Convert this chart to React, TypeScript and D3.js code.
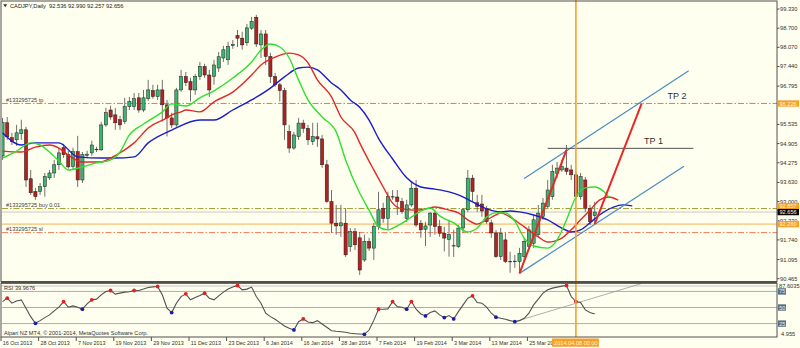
import React from "react";
import * as d3 from "d3";

// ---------- DATA ----------
const opens = [94.50,95.59,95.10,95.03,95.23,95.36,93.75,93.33,93.33,93.49,93.78,93.94,94.21,94.77,94.54,94.15,94.64,93.71,94.52,94.60,94.70,94.70,95.52,96.01,95.85,95.69,95.63,96.12,96.12,96.41,96.01,96.38,96.65,96.45,96.67,96.18,95.75,95.52,96.67,97.11,96.94,96.67,97.11,97.44,97.16,97.11,97.39,97.72,97.66,98.13,98.46,98.37,98.22,98.70,99.06,98.15,98.51,97.77,97.11,96.84,96.65,95.30,94.76,95.14,95.58,95.41,94.97,95.13,95.06,94.21,93.00,92.29,92.20,92.29,91.52,92.01,91.81,91.08,91.69,91.47,92.18,92.78,92.45,93.14,93.15,93.00,92.45,92.89,93.44,92.29,92.09,92.23,92.62,92.18,91.96,91.76,91.55,91.52,92.13,92.73,93.77,92.96,92.92,92.76,92.30,91.97,91.19,91.74,91.02,91.03,91.03,91.19,91.52,91.63,91.91,92.51,92.84,93.16,93.93,94.04,94.10,94.04,93.88,93.16,93.71,92.78,92.536];
const highs = [95.75,95.78,95.26,95.52,95.69,95.46,94.04,93.45,93.61,93.94,94.04,94.37,94.77,94.90,94.67,94.77,95.16,94.63,94.67,95.00,94.80,95.62,96.08,96.15,96.08,95.82,96.41,96.44,96.57,96.57,96.67,97.00,96.84,96.84,97.00,96.34,95.92,96.74,97.33,97.26,97.07,97.20,97.59,97.53,97.33,97.66,97.92,98.12,98.25,98.31,98.64,98.58,98.84,99.07,99.14,98.64,98.64,97.89,97.23,96.90,96.74,95.52,95.29,95.75,95.69,95.52,95.59,95.59,95.19,94.37,93.38,92.89,92.89,92.79,92.13,92.13,92.00,91.91,91.81,92.30,93.32,92.96,93.32,93.38,93.38,93.12,93.06,93.65,93.71,92.40,92.33,92.65,92.73,92.40,92.17,92.40,92.07,92.23,92.79,94.04,93.88,93.22,93.22,92.86,92.40,92.07,92.13,91.97,91.35,91.25,91.48,91.81,92.20,92.56,92.89,93.12,93.71,94.21,94.30,94.37,94.86,94.21,93.98,93.94,93.81,92.89,92.990];
const lows = [94.37,95.03,94.86,94.83,95.03,93.48,93.22,93.06,93.22,93.16,93.71,93.78,94.04,94.44,94.08,94.04,93.48,93.61,94.44,94.50,94.63,94.67,95.46,95.69,95.36,95.36,95.55,96.01,96.01,95.92,95.95,96.31,96.38,96.34,95.63,95.14,95.42,95.46,96.61,96.80,96.29,96.51,97.00,97.07,96.44,96.84,97.26,97.59,97.49,98.02,98.08,97.99,98.12,98.64,98.08,97.72,97.49,96.90,96.77,96.29,95.03,94.60,94.70,95.03,95.26,94.86,94.86,94.80,94.11,92.96,91.97,91.91,91.84,91.18,91.35,91.41,90.59,91.02,91.38,91.08,92.07,92.30,92.07,93.06,92.56,92.60,92.33,92.83,92.17,91.81,91.54,91.84,91.91,91.84,91.36,91.19,91.18,91.48,91.97,92.66,93.00,92.66,92.50,92.27,91.81,91.15,91.08,90.98,90.66,90.82,90.64,91.02,91.41,91.48,91.84,92.40,92.79,93.06,93.78,93.98,93.88,93.71,93.06,93.06,92.66,92.23,92.257];
const closes = [95.60,95.13,94.97,95.26,95.36,93.71,93.29,93.16,93.49,93.82,93.94,94.21,94.60,94.54,94.14,94.64,93.71,94.54,94.56,94.86,94.72,95.52,95.92,95.78,95.59,95.52,96.12,96.29,96.38,96.01,96.41,96.67,96.45,96.67,96.18,95.75,95.52,96.67,97.11,96.91,96.67,97.11,97.44,97.16,96.67,97.49,97.76,97.99,98.10,98.17,98.37,98.15,98.71,98.92,98.18,98.51,97.77,97.11,96.84,96.65,95.52,94.76,95.19,95.58,95.41,95.03,95.14,95.06,94.21,93.00,92.29,92.20,92.30,91.25,92.01,91.58,90.75,91.69,91.47,92.18,92.73,92.45,93.16,93.17,93.00,92.67,92.89,93.44,92.23,92.07,92.20,92.62,92.18,91.96,91.80,91.91,91.54,92.13,92.73,93.77,93.33,92.84,92.69,92.34,91.97,91.19,91.96,91.03,91.03,91.04,91.30,91.69,92.07,92.40,92.62,92.95,93.38,93.99,94.10,94.15,93.99,93.88,93.16,93.82,92.78,92.34,92.656];

// Alligator lines: [bar position, price]
const lipsPts: [number, number][] = [[0,94.43],[3,94.66],[6,94.93],[8,94.86],[10,94.63],[12,94.33],[14,94.04],[17,94.14],[20,94.27],[23,94.37],[25,94.63],[27,95.19],[30,95.55],[34,95.95],[36,96.21],[39,96.14],[42,96.41],[45,96.64],[49,97.06],[53,97.59],[55,97.98],[57,98.18],[59,98.08],[61,97.72],[63,97.00],[65,96.34],[68,95.78],[71,95.29],[73,94.37],[76,93.28],[78,92.72],[80,92.17],[82,92.07],[84,92.20],[87,92.49],[89,92.69],[91,92.79],[93,92.53],[96,92.30],[99,92.00],[101,92.13],[103,92.49],[105,92.63],[107,92.63],[109,92.36],[111,91.80],[113,91.54],[116,91.47],[118,91.74],[120,92.40],[122,93.15],[124,93.45],[126,93.48],[128,93.32],[129,93.15]];
const teethPts: [number, number][] = [[0,94.66],[4,94.63],[7,94.79],[10,94.86],[12,94.76],[14,94.53],[17,94.30],[21,94.30],[23,94.43],[26,94.70],[28,94.93],[31,95.42],[35,95.75],[36,95.85],[38,95.95],[39,96.01],[42,95.95],[45,96.28],[49,96.60],[53,97.16],[55,97.49],[58,97.75],[61,97.88],[63,97.82],[65,97.56],[67,97.00],[70,96.44],[72,95.78],[75,95.26],[76,94.93],[79,94.04],[81,93.48],[83,92.95],[85,92.76],[88,92.72],[90,92.76],[92,92.82],[95,92.72],[97,92.63],[99,92.40],[101,92.26],[103,92.40],[105,92.56],[106,92.63],[108,92.49],[111,92.17],[114,91.84],[116,91.67],[119,91.80],[121,92.07],[123,92.40],[125,92.72],[127,93.05],[129,93.15],[131,93.05]];
const jawPts: [number, number][] = [[0,95.26],[4,94.86],[7,94.93],[12,94.93],[16,94.47],[21,94.43],[24,94.43],[28,94.47],[31,94.93],[36,95.35],[42,95.68],[45,95.68],[49,96.01],[53,96.34],[57,96.73],[60,97.10],[63,97.39],[65,97.42],[67,97.33],[70,96.90],[72,96.67],[74,96.34],[76,96.10],[78,95.68],[80,95.08],[83,94.40],[86,93.78],[89,93.48],[92,93.41],[95,93.32],[97,93.22],[100,92.99],[103,92.76],[106,92.66],[108,92.69],[110,92.66],[113,92.56],[116,92.40],[119,92.13],[121,92.00],[123,92.07],[125,92.30],[127,92.56],[130,92.82],[132,92.89],[134,92.86]];

const rsiValues = [59.2,64.5,56.7,60,61.9,49,35.8,25.5,29.6,34.3,38.5,44.7,50.5,59.2,50.5,52.5,50.5,47.4,55.6,61.9,63.0,69.7,74.8,76.4,70.8,72.3,73.9,74.4,76.4,76.4,78.6,81.1,82.1,82.6,69.7,49.0,42.1,56.7,67.0,71.2,61.9,65.5,68.6,72.3,64.5,61.9,68.1,73.9,78.6,81.7,84.2,77.5,78.6,81.7,67.0,56.7,41.1,35.8,31.8,26.5,21.3,17.7,15.1,28.0,32.2,27.6,26.5,29.6,24.4,19.3,14.0,13.1,12.4,11.5,9.9,9.3,8.8,8.4,15.0,30.0,47.4,47.4,47.9,59.2,51.4,50.5,47.4,59.2,47.4,40.0,36.9,42.1,44.7,38.5,34.3,37.4,32.2,43.6,54.1,64.5,68.1,57.7,56.7,50.5,41.1,34.9,33.3,31.8,29.6,28.0,29.6,33.3,41.1,54.1,63.0,72.3,77.5,80.1,81.7,83.2,84.2,67.0,59.2,57.7,46.3,42.1,39.9676];
const rsiRedDots = [1,13,19,23,28,33,39,43,50,64,80,83,87,100,120,122];
const rsiBlueDots = [7,17,36,62,77,86,90,94,96,105,109];
const rsiLevels = [75, 50, 25];
const rsiTrend: [number, number][] = [[109, 28.0], [137, 89.5]];

const dateLabels = ["16 Oct 2013","28 Oct 2013","7 Nov 2013","19 Nov 2013","29 Nov 2013","11 Dec 2013","23 Dec 2013","6 Jan 2014","16 Jan 2014","28 Jan 2014","7 Feb 2014","19 Feb 2014","3 Mar 2014","13 Mar 2014","25 Mar 2014"];
const dateLabelIdx = [0,8,16,24,32,40,48,56,64,72,80,88,96,104,112];
const markerIdx = 122;
const markerLabel = "2014.04.08 00:00";

const priceTicks = [99.330,98.700,98.070,97.440,96.795,95.535,94.905,94.275,93.630,93.000,92.370,91.740,91.095,90.465];

const tpPrice = 96.226;
const buyLinePrice = 92.77;
const buyLabelPrice = 92.857;
const bidPrice = 92.656;
const stopLinePrice = 92.260;
const slPrice = 91.98;

const channelUpper: [number, number][] = [[111, 93.76], [146, 97.30]];
const channelLower: [number, number][] = [[110, 90.64], [145, 94.16]];
const arrow1: [number, number][] = [[110, 90.64], [120, 94.70]];
const arrow2: [number, number][] = [[126, 92.257], [136, 96.226]];
const tp1Line: [number, number][] = [[116, 94.75], [147, 94.75]];

const FONT = "'Liberation Sans', Arial, sans-serif";

export default function App() {
  const x = d3.scaleLinear().domain([0, 164]).range([2.5, 2.5 + 4.7 * 164]);
  const y = d3.scaleLinear().domain([90.465, 99.33]).range([278.7, 9]);
  const yr = d3.scaleLinear().domain([4.955, 87.6035]).range([336.5, 283.3]);

  const maLine = d3.line<[number, number]>().x(d => x(d[0])).y(d => y(d[1])).curve(d3.curveMonotoneX);
  const rsiLine = d3.line<number>().x((_, i) => x(i)).y(d => yr(d)).curve(d3.curveLinear);

  const L = 2, R = 777;
  const bull = "#3cb371", bear = "#b22222";
  const boxX = x(markerIdx) - 24;

  const hline = (p: number, color: string, dash?: string, w = 1) => (
    <line x1={L} x2={R} y1={y(p)} y2={y(p)} stroke={color} strokeWidth={w} strokeDasharray={dash} />
  );
  const seg = (pts: [number, number][], color: string, w: number) => (
    <line x1={x(pts[0][0])} y1={y(pts[0][1])} x2={x(pts[1][0])} y2={y(pts[1][1])} stroke={color} strokeWidth={w} />
  );
  const priceBox = (p: number, fill: string, color: string) => (
    <g>
      <rect x={777.5} y={y(p) - 3.1} width={21.5} height={6.3} fill={fill} />
      <text x={779.5} y={y(p) + 2.1} fontSize={5.6} fill={color} fontFamily={FONT}>{p.toFixed(3)}</text>
    </g>
  );

  return (
    <svg width={800} height={348} style={{ position: "fixed", left: 0, top: 0, background: "#fffff0" }}>
      <defs>
        <clipPath id="mainClip"><rect x={L} y={2} width={R - L} height={279} /></clipPath>
        <clipPath id="rsiClip"><rect x={L} y={283.5} width={R - L} height={53} /></clipPath>
        <clipPath id="dateClip"><rect x={0} y={337} width={boxX} height={11} /></clipPath>
        <clipPath id="axisClip"><rect x={778} y={0} width={22} height={y(stopLinePrice) - 3.1} /></clipPath>
      </defs>
      <rect x={0} y={0} width={800} height={348} fill="#fffff0" />

      {/* main panel */}
      <g clipPath="url(#mainClip)">
        {hline(tpPrice, "#e8763a", "6,2,1.5,2")}
        {hline(buyLinePrice, "#a09a30", "6,2,1.5,2")}
        {hline(bidPrice, "#c8c8c0")}
        {hline(stopLinePrice, "#f2b050")}
        {hline(slPrice, "#f07a5a", "6,2,1.5,2")}

        {/* candles */}
        {closes.map((c, i) => {
          const o = opens[i];
          const cx = x(i);
          const top = y(Math.max(o, c));
          const bot = y(Math.min(o, c));
          const h = bot - top;
          return (
            <g key={i}>
              <line x1={cx} x2={cx} y1={y(highs[i])} y2={y(lows[i])} stroke="#707070" strokeWidth={1} />
              {h < 1.2 ? (
                <line x1={cx - 1.8} x2={cx + 1.8} y1={(top + bot) / 2} y2={(top + bot) / 2} stroke="#202020" strokeWidth={1} />
              ) : (
                <rect x={cx - 1.6} y={top} width={3.2} height={h} fill={c >= o ? bull : bear} stroke="#1e1e1e" strokeWidth={0.5} />
              )}
            </g>
          );
        })}

        <path d={maLine(jawPts) || ""} fill="none" stroke="#1c1cc8" strokeWidth={1.4} />
        <path d={maLine(teethPts) || ""} fill="none" stroke="#e02828" strokeWidth={1.4} />
        <path d={maLine(lipsPts) || ""} fill="none" stroke="#2ee02e" strokeWidth={1.4} />

        {seg(channelUpper, "#4a8cc4", 1.2)}
        {seg(channelLower, "#4a8cc4", 1.2)}
        {seg(tp1Line, "#505050", 1)}
        {seg(arrow1, "#e82828", 2)}
        {seg(arrow2, "#e82828", 2)}
      </g>

      {/* order labels */}
      <g fontFamily={FONT} fontSize={5.6} fill="#404040">
        <text x={6} y={y(tpPrice) - 1.3}>#133295725 tp</text>
        <text x={6} y={y(buyLinePrice) - 1.3}>#133295725 buy 0.01</text>
        <text x={6} y={y(slPrice) - 1.3}>#133295725 sl</text>
      </g>
      <text x={x(136.5)} y={y(94.75) - 4} fontSize={9} fill="#303030" fontFamily={FONT}>TP 1</text>
      <text x={x(141.5)} y={y(tpPrice) - 4} fontSize={9} fill="#303030" fontFamily={FONT}>TP 2</text>

      {/* title */}
      <path d="M3.2,4.3 L7.2,4.3 L5.2,7.3 Z" fill="#303030" />
      <text x={10} y={8.4} fontSize={5.7} fill="#202020" fontFamily={FONT}>
        CADJPY,Daily{"\u00a0\u00a0"}{[opens[126], highs[126], lows[126], closes[126]].map(v => v.toFixed(3)).join(" ")}
      </text>

      {/* RSI panel */}
      <line x1={L} x2={R} y1={286} y2={286} stroke="#c4c8c0" strokeWidth={1} />
      <g clipPath="url(#rsiClip)">
        {rsiLevels.map(v => (
          <line key={v} x1={L} x2={R} y1={yr(v)} y2={yr(v)} stroke="#a8b0a8" strokeWidth={1} />
        ))}
        <line x1={x(rsiTrend[0][0])} y1={yr(rsiTrend[0][1])} x2={x(rsiTrend[1][0])} y2={yr(rsiTrend[1][1])} stroke="#9a9a9a" strokeWidth={0.8} />
        <path d={rsiLine(rsiValues) || ""} fill="none" stroke="#505050" strokeWidth={1.1} />
        {rsiRedDots.map(i => <circle key={"r" + i} cx={x(i)} cy={yr(rsiValues[i])} r={1.9} fill="#e02020" />)}
        {rsiBlueDots.map(i => <circle key={"b" + i} cx={x(i)} cy={yr(rsiValues[i])} r={1.9} fill="#1c1ca8" />)}
      </g>
      <text x={4} y={290.3} fontSize={5.6} fill="#303030" fontFamily={FONT}>RSI {rsiValues[126].toFixed(4)}</text>
      <text x={4} y={334.5} fontSize={5.6} fill="#303030" fontFamily={FONT}>Alpari NZ MT4, © 2001-2014, MetaQuotes Software Corp.</text>

      {/* vertical marker */}
      <line x1={x(markerIdx)} x2={x(markerIdx)} y1={0} y2={337} stroke="#f5a030" strokeWidth={1.6} />

      {/* frames */}
      <rect x={1} y={1} width={R - 1} height={280.5} fill="none" stroke="#505050" strokeWidth={1} />
      <line x1={1} x2={R} y1={282.4} y2={282.4} stroke="#505050" strokeWidth={1.8} />
      <rect x={1} y={283.3} width={R - 1} height={53.7} fill="none" stroke="#505050" strokeWidth={1} />

      {/* right price axis */}
      <g fontFamily={FONT} fontSize={5.7} fill="#303030">
        {priceTicks.map(v => (
          <g key={v} clipPath={v === 92.37 ? "url(#axisClip)" : undefined}>
            <line x1={R} x2={R + 2.5} y1={y(v)} y2={y(v)} stroke="#505050" />
            <text x={780} y={y(v) + 2}>{v.toFixed(3)}</text>
          </g>
        ))}
        <text x={779} y={287.5}>87.6035</text>
        <text x={781} y={335.5}>4.955</text>
      </g>
      {priceBox(tpPrice, "#f5a02a", "#fff6dc")}
      {priceBox(buyLabelPrice, "#f5a02a", "#fff6dc")}
      {priceBox(bidPrice, "#000000", "#ffffff")}
      {priceBox(stopLinePrice, "#f5a02a", "#fff6dc")}
      {rsiLevels.map(v => (
        <g key={"lv" + v}>
          <rect x={778} y={yr(v) - 3.2} width={8} height={6.4} fill="#5c7080" />
          <text x={779.2} y={yr(v) + 2} fontSize={5.4} fill="#e8f0f0" fontFamily={FONT}>{v}</text>
        </g>
      ))}

      {/* bottom time axis */}
      <g fontFamily={FONT} fontSize={5.4} fill="#303030" clipPath="url(#dateClip)">
        {dateLabels.map((t, k) => (
          <g key={t}>
            <line x1={x(dateLabelIdx[k]) - 1.5} x2={x(dateLabelIdx[k]) - 1.5} y1={337} y2={341} stroke="#505050" />
            <text x={x(dateLabelIdx[k]) + 0.3} y={344.8}>{t}</text>
          </g>
        ))}
      </g>
      <rect x={boxX} y={338.5} width={47} height={8.2} fill="#f5a02a" />
      <text x={x(markerIdx)} y={344.8} fontSize={5.6} textAnchor="middle" fill="#fff6dc" fontFamily={FONT}>{markerLabel}</text>
    </svg>
  );
}
